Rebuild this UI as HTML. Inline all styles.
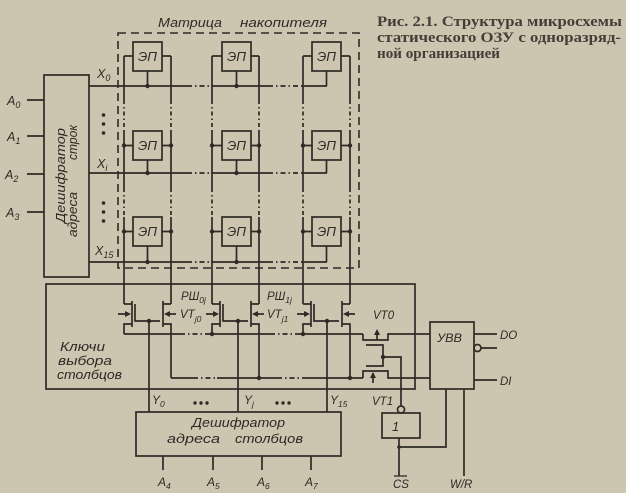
<!DOCTYPE html>
<html><head><meta charset="utf-8"><style>
html,body{margin:0;padding:0;background:#cdc5b0;}
svg{display:block}
text{font-family:"Liberation Sans",sans-serif;font-style:italic;fill:#2f2a25}
.cap{font-family:"Liberation Serif",serif;font-style:normal;font-weight:bold;font-size:15px;fill:#443e37}
</style></head><body>
<svg width="626" height="493" viewBox="0 0 626 493" xmlns="http://www.w3.org/2000/svg">
<rect width="626" height="493" fill="#cdc5b0"/>

<!-- caption -->
<text class="cap" x="377" y="26" textLength="245" lengthAdjust="spacingAndGlyphs">Рис. 2.1. Структура микросхемы</text>
<text class="cap" x="377" y="42" textLength="244" lengthAdjust="spacingAndGlyphs">статического ОЗУ с одноразряд-</text>
<text class="cap" x="377" y="58" textLength="123" lengthAdjust="spacingAndGlyphs">ной организацией</text>

<!-- matrix title -->
<text x="158" y="27" font-size="13" textLength="64" lengthAdjust="spacingAndGlyphs">Матрица</text>
<text x="240" y="27" font-size="13" textLength="87" lengthAdjust="spacingAndGlyphs">накопителя</text>

<g stroke="#2f2a25" stroke-width="1.7" fill="none">
<!-- matrix dashed box -->
<rect x="118" y="33" width="241" height="235" stroke-dasharray="8 5" stroke-width="1.6"/>

<!-- row decoder -->
<rect x="44" y="75" width="45" height="202"/>
<path d="M27 100H44M27 136H44M27 174H44M27 212H44"/>

<!-- row lines -->
<path d="M89 86H187M211 86H268M301 86H327"/>
<path d="M89 173H187M211 173H268M301 173H327"/>
<path d="M89 262H187M211 262H268M301 262H327"/>
<path d="M187 86H211M268 86H301M187 173H211M268 173H301M187 262H211M268 262H301" stroke-dasharray="5 3 1.5 3"/>

<!-- EP boxes -->
<rect x="133" y="42" width="29" height="29"/><rect x="222" y="42" width="29" height="29"/><rect x="312" y="42" width="29" height="29"/>
<rect x="133" y="131" width="29" height="29"/><rect x="222" y="131" width="29" height="29"/><rect x="312" y="131" width="29" height="29"/>
<rect x="133" y="217" width="29" height="29"/><rect x="222" y="217" width="29" height="29"/><rect x="312" y="217" width="29" height="29"/>

<!-- box to row line -->
<path d="M147.5 71V86M236.5 71V86M326.5 71V86M147.5 160V173M236.5 160V173M326.5 160V173M147.5 246V262M236.5 246V262M326.5 246V262"/>

<!-- bit lines solid -->
<path d="M124 56V100M124 131V188M124 217V304M171 56V100M171 131V188M171 217V304"/>
<path d="M212 56V100M212 131V188M212 217V304M259 56V100M259 131V188M259 217V304"/>
<path d="M303 56V100M303 131V188M303 217V304M350 56V100M350 131V188M350 217V304"/>
<!-- bit lines dotted -->
<path d="M124 100V131M124 188V217M171 100V131M171 188V217M212 100V131M212 188V217M259 100V131M259 188V217M303 100V131M303 188V217M350 100V131M350 188V217" stroke-dasharray="4 3 1.5 3"/>
<!-- top connections row 0 -->
<path d="M124 56H133M162 56H171M212 56H222M251 56H259M303 56H312M341 56H350"/>
<!-- row i/15 connections -->
<path d="M124 145.5H133M162 145.5H171M212 145.5H222M251 145.5H259M303 145.5H312M341 145.5H350"/>
<path d="M124 231.5H133M162 231.5H171M212 231.5H222M251 231.5H259M303 231.5H312M341 231.5H350"/>

<!-- column switch box -->
<rect x="46" y="284" width="369" height="105"/>

<!-- transistors col 0 -->
<path d="M124 304H132M132 301V327M132 324H124V334M135 304V321H160M171 304H163M163 301V327M163 324H171V378"/>
<!-- col 1 -->
<path d="M212 304H220M220 301V327M220 324H212V334M223 304V321H248M259 304H251M251 301V327M251 324H259V378"/>
<!-- col 2 -->
<path d="M303 304H311M311 301V327M311 324H303V334M314 304V321H339M350 304H342M342 301V327M342 324H350V378"/>
<!-- substrate arrows -->
<path d="M118 314H129M176 314H166M206 314H217M264 314H254M297 314H308M355 314H345"/>

<!-- Y verticals -->
<path d="M149 321V412M238 321V412M327 321V412"/>

<!-- upper bus y=334 -->
<path d="M124 334H180M210 334H270M300 334H363"/>
<path d="M180 334H210M270 334H300" stroke-dasharray="5 3 1.5 3"/>
<!-- lower bus y=378 -->
<path d="M171 378H193M217 378H277M303 378H363"/>
<path d="M193 378H217M277 378H303" stroke-dasharray="5 3 1.5 3"/>

<!-- VT0 -->
<path d="M363 334V340H388V334H430"/>
<path d="M377 340V331"/>
<path d="M366 345H383V366H366"/>
<path d="M383 357H401V406"/>
<!-- VT1 -->
<path d="M363 378V371H388V378H430"/>
<path d="M373 383V373"/>

<!-- inverter -->
<circle cx="401" cy="409.5" r="3.5"/>
<rect x="382" y="413" width="38" height="25"/>
<path d="M399 438V476M399 447H446V389M464 389V476"/>
<path d="M394 476H407" stroke-width="1.3"/>

<!-- UVV -->
<rect x="430" y="322" width="44" height="67"/>
<path d="M474 334H497M481 348H497M474 380H497"/>
<circle cx="477.5" cy="348" r="3.5"/>

<!-- column decoder -->
<rect x="136" y="412" width="205" height="44"/>
<path d="M163 456V470M213 456V470M262 456V470M311 456V470"/>
</g>

<!-- arrowheads -->
<g fill="#2f2a25">
<path d="M131 314L125 311L125 317Z"/><path d="M164 314L170 311L170 317Z"/>
<path d="M219 314L213 311L213 317Z"/><path d="M252 314L258 311L258 317Z"/>
<path d="M310 314L304 311L304 317Z"/><path d="M343 314L349 311L349 317Z"/>
<path d="M377 329L374 335L380 335Z"/>
<path d="M373 372L370 378L376 378Z"/>
</g>

<!-- dots -->
<g fill="#2f2a25">
<circle cx="147.5" cy="86" r="2.2"/><circle cx="236.5" cy="86" r="2.2"/>
<circle cx="147.5" cy="173" r="2.2"/><circle cx="236.5" cy="173" r="2.2"/>
<circle cx="147.5" cy="262" r="2.2"/><circle cx="236.5" cy="262" r="2.2"/>
<circle cx="124" cy="145.5" r="2.2"/><circle cx="171" cy="145.5" r="2.2"/><circle cx="212" cy="145.5" r="2.2"/><circle cx="259" cy="145.5" r="2.2"/><circle cx="303" cy="145.5" r="2.2"/><circle cx="350" cy="145.5" r="2.2"/>
<circle cx="124" cy="231.5" r="2.2"/><circle cx="171" cy="231.5" r="2.2"/><circle cx="212" cy="231.5" r="2.2"/><circle cx="259" cy="231.5" r="2.2"/><circle cx="303" cy="231.5" r="2.2"/><circle cx="350" cy="231.5" r="2.2"/>
<circle cx="149" cy="321" r="2.2"/><circle cx="238" cy="321" r="2.2"/><circle cx="327" cy="321" r="2.2"/>
<circle cx="212" cy="334" r="2.2"/><circle cx="303" cy="334" r="2.2"/>
<circle cx="259" cy="378" r="2.2"/><circle cx="350" cy="378" r="2.2"/>
<circle cx="383" cy="357" r="2.2"/>
<circle cx="399" cy="447" r="1.8"/>
<!-- vertical ellipses -->
<circle cx="103.5" cy="115" r="1.8"/><circle cx="103.5" cy="124" r="1.8"/><circle cx="103.5" cy="133" r="1.8"/>
<circle cx="103.5" cy="203" r="1.8"/><circle cx="103.5" cy="212" r="1.8"/><circle cx="103.5" cy="221" r="1.8"/>
<!-- horizontal ellipses -->
<circle cx="195" cy="403" r="1.7"/><circle cx="201" cy="403" r="1.7"/><circle cx="207" cy="403" r="1.7"/>
<circle cx="277" cy="403" r="1.7"/><circle cx="283" cy="403" r="1.7"/><circle cx="289" cy="403" r="1.7"/>
</g>

<!-- EP labels -->
<g font-size="12.5">
<text x="138" y="61" textLength="19" lengthAdjust="spacingAndGlyphs">ЭП</text>
<text x="227" y="61" textLength="19" lengthAdjust="spacingAndGlyphs">ЭП</text>
<text x="317" y="61" textLength="19" lengthAdjust="spacingAndGlyphs">ЭП</text>
<text x="138" y="150" textLength="19" lengthAdjust="spacingAndGlyphs">ЭП</text>
<text x="227" y="150" textLength="19" lengthAdjust="spacingAndGlyphs">ЭП</text>
<text x="317" y="150" textLength="19" lengthAdjust="spacingAndGlyphs">ЭП</text>
<text x="138" y="236" textLength="19" lengthAdjust="spacingAndGlyphs">ЭП</text>
<text x="227" y="236" textLength="19" lengthAdjust="spacingAndGlyphs">ЭП</text>
<text x="317" y="236" textLength="19" lengthAdjust="spacingAndGlyphs">ЭП</text>
</g>

<!-- A labels -->
<g font-size="12.5">
<text x="7" y="105">A<tspan font-size="9" dy="3">0</tspan></text>
<text x="7" y="141">A<tspan font-size="9" dy="3">1</tspan></text>
<text x="5" y="179">A<tspan font-size="9" dy="3">2</tspan></text>
<text x="6" y="217">A<tspan font-size="9" dy="3">3</tspan></text>
<text x="97" y="78">X<tspan font-size="9" dy="3">0</tspan></text>
<text x="97" y="168">X<tspan font-size="9" dy="3">i</tspan></text>
<text x="95" y="255">X<tspan font-size="9" dy="3">15</tspan></text>
</g>

<!-- row decoder text -->
<text transform="translate(65,223) rotate(-90)" font-size="13" textLength="95" lengthAdjust="spacingAndGlyphs">Дешифратор</text>
<text transform="translate(77,237) rotate(-90)" font-size="13" textLength="45" lengthAdjust="spacingAndGlyphs">адреса</text>
<text transform="translate(77,160) rotate(-90)" font-size="13" textLength="35" lengthAdjust="spacingAndGlyphs">строк</text>

<!-- column switch labels -->
<g font-size="12.5">
<text x="60" y="351" textLength="45" lengthAdjust="spacingAndGlyphs">Ключи</text>
<text x="58" y="365" textLength="54" lengthAdjust="spacingAndGlyphs">выбора</text>
<text x="57" y="379" textLength="65" lengthAdjust="spacingAndGlyphs">столбцов</text>
</g>

<g font-size="11.5">
<text x="181" y="300">PШ<tspan font-size="8.5" dy="3">0j</tspan></text>
<text x="180" y="318">VT<tspan font-size="8.5" dy="4">j0</tspan></text>
<text x="267" y="300">PШ<tspan font-size="8.5" dy="3">1j</tspan></text>
<text x="267" y="318">VT<tspan font-size="8.5" dy="4">j1</tspan></text>
<text x="373" y="319">VT0</text>
<text x="372" y="405">VT1</text>
<text x="437" y="342" textLength="25" lengthAdjust="spacingAndGlyphs">УВВ</text>
<text x="500" y="339">DO</text>
<text x="500" y="385">DI</text>
<text x="392" y="431" font-size="13">1</text>
<text x="393" y="488">CS</text>
<text x="450" y="488">W/R</text>
</g>

<!-- column decoder labels -->
<g font-size="12">
<text x="152" y="404">Y<tspan font-size="8.5" dy="3">0</tspan></text>
<text x="244" y="404">Y<tspan font-size="8.5" dy="3">j</tspan></text>
<text x="330" y="404">Y<tspan font-size="8.5" dy="3">15</tspan></text>
<text x="158" y="486">A<tspan font-size="8.5" dy="3">4</tspan></text>
<text x="207" y="486">A<tspan font-size="8.5" dy="3">5</tspan></text>
<text x="257" y="486">A<tspan font-size="8.5" dy="3">6</tspan></text>
<text x="305" y="486">A<tspan font-size="8.5" dy="3">7</tspan></text>
</g>
<text x="192" y="427" font-size="13" textLength="93" lengthAdjust="spacingAndGlyphs">Дешифратор</text>
<text x="167" y="443" font-size="13" textLength="53" lengthAdjust="spacingAndGlyphs">адреса</text>
<text x="235" y="443" font-size="13" textLength="68" lengthAdjust="spacingAndGlyphs">столбцов</text>
</svg>
</body></html>
